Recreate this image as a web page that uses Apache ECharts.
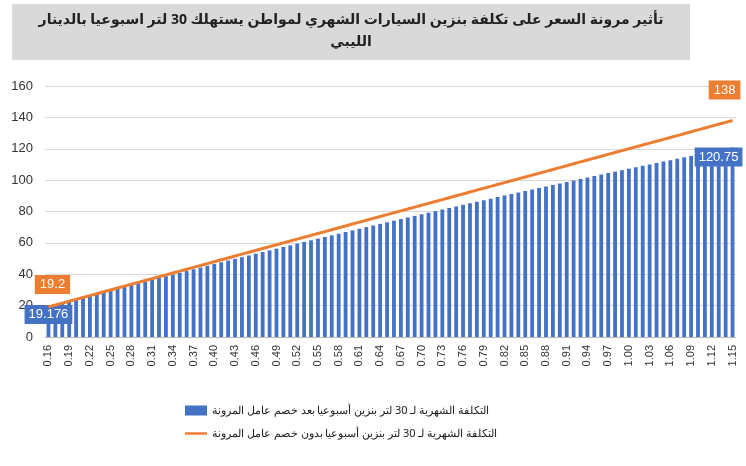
<!DOCTYPE html>
<html>
<head>
<meta charset="utf-8">
<script src="https://cdn.jsdelivr.net/npm/echarts@6/dist/echarts.min.js"></script>
<style>html,body{margin:0;padding:0;background:#fff}#main{width:746px;height:466px}</style>
</head>
<body>
<div id="main"></div>
<script>
// prices 0.16 .. 1.15 (step 0.01)
var categories = [];
for (var i = 16; i <= 115; i++) categories.push((i / 100).toFixed(2));

var costAfter = [19.176,20.349,21.519,22.686,23.85,25.011,26.169,27.324,28.476,29.625,
30.771,31.914,33.054,34.191,35.325,36.456,37.584,38.709,39.831,40.95,
42.066,43.179,44.289,45.396,46.5,47.601,48.699,49.794,50.886,51.975,
53.061,54.144,55.224,56.301,57.375,58.446,59.514,60.579,61.641,62.7,
63.756,64.809,65.859,66.906,67.95,68.991,70.029,71.064,72.096,73.125,
74.151,75.174,76.194,77.211,78.225,79.236,80.244,81.249,82.251,83.25,
84.246,85.239,86.229,87.216,88.2,89.181,90.159,91.134,92.106,93.075,
94.041,95.004,95.964,96.921,97.875,98.826,99.774,100.719,101.661,102.6,
103.536,104.469,105.399,106.326,107.25,108.171,109.089,110.004,110.916,111.825,
112.731,113.634,114.534,115.431,116.325,117.216,118.104,118.989,119.871,120.75];

var costBefore = [19.2,20.4,21.6,22.8,24,25.2,26.4,27.6,28.8,30,
31.2,32.4,33.6,34.8,36,37.2,38.4,39.6,40.8,42,
43.2,44.4,45.6,46.8,48,49.2,50.4,51.6,52.8,54,
55.2,56.4,57.6,58.8,60,61.2,62.4,63.6,64.8,66,
67.2,68.4,69.6,70.8,72,73.2,74.4,75.6,76.8,78,
79.2,80.4,81.6,82.8,84,85.2,86.4,87.6,88.8,90,
91.2,92.4,93.6,94.8,96,97.2,98.4,99.6,100.8,102,
103.2,104.4,105.6,106.8,108,109.2,110.4,111.6,112.8,114,
115.2,116.4,117.6,118.8,120,121.2,122.4,123.6,124.8,126,
127.2,128.4,129.6,130.8,132,133.2,134.4,135.6,136.8,138];

var titleText = 'تأثير مرونة السعر على تكلفة بنزين السيارات الشهري لمواطن يستهلك 30 لتر اسبوعيا بالدينار\nالليبي';
var nameAfter = 'التكلفة الشهرية لـ 30 لتر بنزين أسبوعيا بعد خصم عامل المرونة';
var nameBefore = 'التكلفة الشهرية لـ 30 لتر بنزين أسبوعيا بدون خصم عامل المرونة';

var last = costAfter.length - 1;
var barData = costAfter.map(function (v, i) {
  if (i === 0) return {value: v, label: {show: true, position: 'top', offset: [0, 22]}};
  if (i === last) return {value: v, label: {show: true, position: 'top', offset: [-14, 24]}};
  return v;
});
var lineData = costBefore.map(function (v, i) {
  if (i === 0) return {value: v, label: {show: true, position: 'top', offset: [4, -8]}};
  if (i === last) return {value: v, label: {show: true, position: 'top', offset: [-8, -16]}};
  return v;
});

var chart = echarts.init(document.getElementById('main'));
chart.setOption({
  animation: false,
  textStyle: {fontFamily: 'Liberation Sans, Arial, sans-serif'},
  graphic: [
    {type: 'rect', left: 12, top: 4, shape: {width: 678, height: 56}, style: {fill: '#d9d9d9'}},
    {type: 'text', x: 351, y: 9, style: {text: titleText, font: 'bold 14px "Noto Sans", "DejaVu Sans", sans-serif', fill: '#222', align: 'center', lineHeight: 22}}
  ],
  legend: {
    orient: 'vertical', left: 180, top: 400, itemGap: 12, itemWidth: 22, itemHeight: 10,
    textStyle: {fontSize: 11, color: '#222', fontFamily: '"Noto Sans", sans-serif'},
    data: [{name: nameAfter, icon: 'rect'}, {name: nameBefore, icon: 'path://M0,4L22,4L22,6.5L0,6.5Z'}]
  },
  grid: {left: 45, right: 10, top: 86, bottom: 129},
  xAxis: {
    type: 'category', data: categories,
    axisTick: {show: false},
    axisLine: {lineStyle: {color: '#bbb'}},
    axisLabel: {interval: 2, rotate: 90, color: '#333', fontSize: 11}
  },
  yAxis: {
    type: 'value', min: 0, max: 160, interval: 20,
    axisLabel: {color: '#333', fontSize: 13, margin: 12},
    splitLine: {lineStyle: {color: '#d9d9d9'}}
  },
  series: [
    {
      name: nameAfter, type: 'bar', data: barData, barWidth: '55%',
      itemStyle: {color: '#4472c4'},
      label: {show: false, backgroundColor: '#4472c4', color: '#fff', fontSize: 13, padding: [3, 4]}
    },
    {
      name: nameBefore, type: 'line', data: lineData, symbol: 'circle', symbolSize: 0, showSymbol: true,
      lineStyle: {color: '#ed7d31', width: 3}, itemStyle: {color: '#ed7d31'},
      label: {show: false, backgroundColor: '#ed7d31', color: '#fff', fontSize: 13, padding: [3, 5]},
      z: 3
    }
  ]
});
</script>
</body>
</html>
